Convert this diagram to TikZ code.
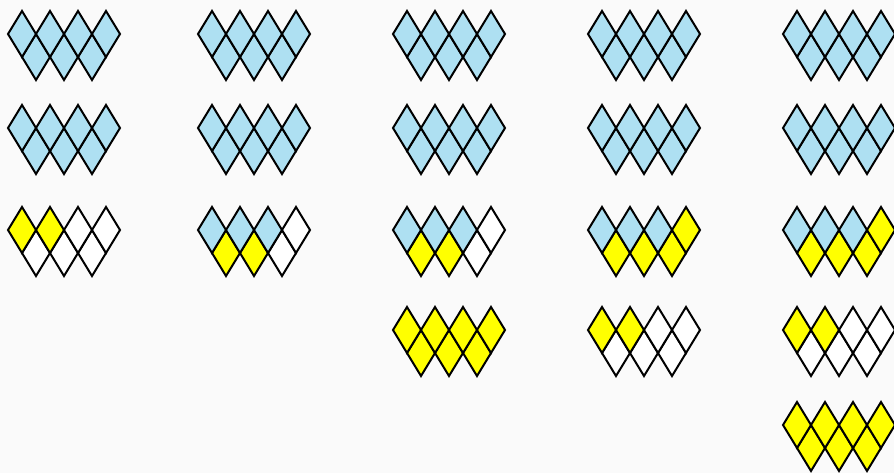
\documentclass[tikz,border=0pt]{standalone}
\definecolor{lb}{HTML}{AEE0F2}
\definecolor{ye}{HTML}{FFFF00}
\definecolor{bg}{HTML}{FAFAFA}
\tikzset{diastyle/.style={draw=black, line width=2pt, line join=miter}}
\newcommand\dia[3]{\filldraw[diastyle, fill=#3] ({#1-14},{#2})--({#1},{#2-23})--({#1+14},{#2})--({#1},{#2+23})--cycle;}
\newcommand\grp[9]{%
  \dia{#1+28}{#2+46}{#7}\dia{#1+56}{#2+46}{#8}\dia{#1+84}{#2+46}{#9}%
  \dia{#1+14}{#2+23}{#3}\dia{#1+42}{#2+23}{#4}\dia{#1+70}{#2+23}{#5}\dia{#1+98}{#2+23}{#6}%
}
\begin{document}
\begin{tikzpicture}[x=1pt,y=-1pt]
\fill[bg] (0,0) rectangle (894,473);
\useasboundingbox (0,0) rectangle (894,473);
% rows 1 and 2: all blue
\foreach \cx in {8,198,393,588,783}{
  \foreach \ry in {11,105}{
    \grp{\cx}{\ry}{lb}{lb}{lb}{lb}{lb}{lb}{lb}
  }
}
% row 3
\grp{8}{207}{ye}{ye}{white}{white}{white}{white}{white}
\grp{198}{207}{lb}{lb}{lb}{white}{ye}{ye}{white}
\grp{393}{207}{lb}{lb}{lb}{white}{ye}{ye}{white}
\grp{588}{207}{lb}{lb}{lb}{ye}{ye}{ye}{ye}
\grp{783}{207}{lb}{lb}{lb}{ye}{ye}{ye}{ye}
% row 4
\grp{393}{307}{ye}{ye}{ye}{ye}{ye}{ye}{ye}
\grp{588}{307}{ye}{ye}{white}{white}{white}{white}{white}
\grp{783}{307}{ye}{ye}{white}{white}{white}{white}{white}
% row 5
\grp{783}{402}{ye}{ye}{ye}{ye}{ye}{ye}{ye}
\end{tikzpicture}
\end{document}
